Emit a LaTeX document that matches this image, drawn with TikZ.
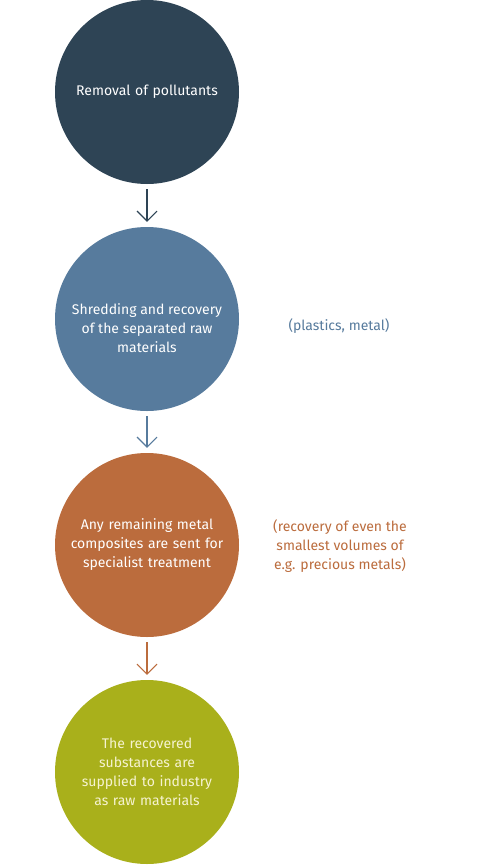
\documentclass[tikz,border=0pt]{standalone}
\usepackage{fontspec}
\setmainfont{Fira Sans}
\usetikzlibrary{arrows.meta}
\definecolor{cone}{HTML}{2E4455}
\definecolor{ctwo}{HTML}{577B9D}
\definecolor{cthree}{HTML}{BB6C3D}
\definecolor{cfour}{HTML}{A9B01B}
\definecolor{txtfour}{HTML}{F6F3D0}
\begin{document}
\begin{tikzpicture}[x=1pt,y=-1pt,
  stepcircle/.style={circle,minimum size=184pt,inner sep=0pt,align=center,text width=160pt,
    font=\fontsize{14}{19}\selectfont,text=white},
  circletext/.style={inner sep=0pt,align=center,font=\fontsize{14}{19}\selectfont,text=white},
  sidenote/.style={align=center,font=\fontsize{14}{19}\selectfont},
  flow/.style={line width=1.1pt,-{Straight Barb[length=10pt,width=20pt,line width=1.1pt]}}]
\useasboundingbox[fill=white] (0,0) rectangle (480,865);
\node[stepcircle,fill=cone] (c1) at (147,92) {Removal of pollutants};
\node[stepcircle,fill=ctwo] (c2) at (147,319) {};
\node[circletext] (t2) at (147,328) {Shredding and recovery\\of the separated raw\\materials};
\node[stepcircle,fill=cthree] (c3) at (147,545) {Any remaining metal\\composites are sent for\\specialist treatment};
\node[stepcircle,fill=cfour,text=txtfour] (c4) at (147,772) {The recovered\\substances are\\supplied to industry\\as raw materials};
\node[sidenote,text=ctwo] (n2) at (339,326) {(plastics, metal)};
\node[sidenote,text=cthree] (n3) at (340,546) {(recovery of even the\\smallest volumes of\\e.g. precious metals)};
\draw[flow,draw=cone] ([yshift=-5pt]c1.south) -- ([yshift=5pt]c2.north);
\draw[flow,draw=ctwo] ([yshift=-5pt]c2.south) -- ([yshift=5pt]c3.north);
\draw[flow,draw=cthree] ([yshift=-5pt]c3.south) -- ([yshift=5pt]c4.north);
\end{tikzpicture}
\end{document}
